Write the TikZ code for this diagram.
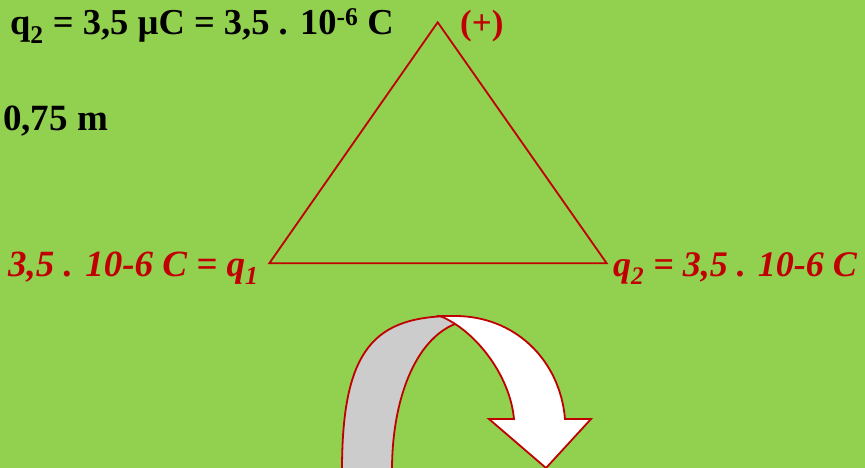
\documentclass[tikz,border=0pt]{standalone}
\usepackage{fontspec}
\setmainfont{Liberation Serif}
\definecolor{bggreen}{HTML}{92D050}
\definecolor{dred}{HTML}{C00000}
\definecolor{backgray}{HTML}{CCCCCC}
\begin{document}
\begin{tikzpicture}[x=1pt,y=-1pt,
  lbl/.style={inner sep=0pt,anchor=base west,font=\fontsize{36.5}{40}\selectfont\bfseries},
  redlbl/.style={lbl,text=dred,font=\fontsize{37}{40}\selectfont\bfseries\itshape},
  edge/.style={draw=dred,line width=1.8pt,line join=miter}]
\fill[bggreen] (0,0) rectangle (865,468);
\useasboundingbox (0,0) rectangle (865,468);
% texts
\node[lbl] (top) at (10,35) {q\textsubscript{2} = 3,5 µC = 3,5 . 10\textsuperscript{-6} C};
\node[lbl,text=dred,font=\fontsize{35}{38}\selectfont\bfseries] (plus) at (460,35) {(+)};
\node[lbl,font=\fontsize{37}{40}\selectfont\bfseries] (dist) at (3,131) {0,75 m};
\node[redlbl] (q1) at (8,276) {3,5 . 10-6 C = q\textsubscript{1}};
\node[redlbl,font=\fontsize{36}{40}\selectfont\bfseries\itshape] (q2) at (613,276) {q\textsubscript{2} = 3,5 . 10-6 C};
% triangle
\coordinate (A) at (437.7,22.3);
\coordinate (B) at (269.3,263.3);
\coordinate (C) at (606.7,263.3);
\draw[edge] (A) -- (B) -- (C) -- cycle;
% circular arrow
\fill[backgray] (342,468) .. controls (342,348) and (375,316) .. (455,316) -- (455,324)
  .. controls (415,340) and (392,400) .. (392,468) -- cycle;
\draw[edge] (342,470) .. controls (342,348) and (375,316) .. (455,316);
\draw[edge] (455,324) .. controls (415,340) and (392,400) .. (392,470);
\filldraw[fill=white,edge] (440,316) -- (455,316) .. controls (515,316) and (560,360) .. (565,419)
  -- (591,419) -- (546,468) -- (489,419) -- (514,419)
  .. controls (510,375) and (475,330) .. (440,316) -- cycle;
\end{tikzpicture}
\end{document}
